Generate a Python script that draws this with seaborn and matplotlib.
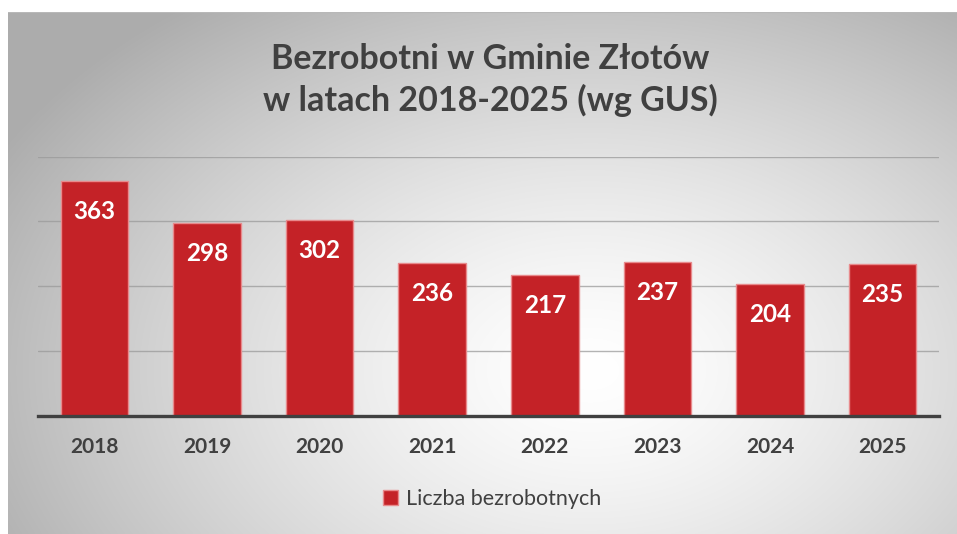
import numpy as np
import pandas as pd
import matplotlib
matplotlib.use("Agg")
import matplotlib.pyplot as plt
import seaborn as sns

years = ["2018", "2019", "2020", "2021", "2022", "2023", "2024", "2025"]
values = [363, 298, 302, 236, 217, 237, 204, 235]
title = "Bezrobotni w Gminie Złotów\nw latach 2018-2025 (wg GUS)"
legend_label = "Liczba bezrobotnych"

sns.set_theme(style="white")
plt.rcParams["font.family"] = ["Lato", "DejaVu Sans"]

W, H = 957, 534
fig = plt.figure(figsize=(W / 100, H / 100), dpi=100)
fig.patch.set_facecolor("white")

# background panel with radial gradient
px0, py0 = 8, 12
bg = fig.add_axes([px0 / W, 0, (W - px0) / W, (H - py0) / H])
gw, gh = W - px0, H - py0
yy, xx = np.mgrid[0:gh, 0:gw]
cx, cy = 590 - px0, 370 - py0
r = np.sqrt(((xx - cx) / 560.0) ** 2 + ((yy - cy) / 380.0) ** 2)
shade = 1.0 - 0.25 * np.clip(r, 0, 1.2) ** 1.4
img = np.dstack([shade, shade, shade])
bg.imshow(img, aspect="auto", extent=[0, 1, 0, 1], origin="upper")
bg.plot([0, 1], [1, 1], color="#b8b8b8", lw=1.5, transform=bg.transAxes)
bg.axis("off")

# main axes
ax_left, ax_right = 38, 939
ax_top, ax_bot = 156.7, 415.7
ax = fig.add_axes([ax_left / W, 1 - ax_bot / H, (ax_right - ax_left) / W, (ax_bot - ax_top) / H])
ax.set_facecolor("none")

df = pd.DataFrame({"year": years, "value": values})
bar_color = "#C42227"
sns.barplot(data=df, x="year", y="value", color=bar_color, width=0.6, ax=ax,
            edgecolor="#e88a8c", linewidth=1.0, saturation=1, zorder=3,
            label=legend_label)

ax.set_ylim(0, 400)
ax.set_xlim(-0.5, len(years) - 0.5)
ax.set_yticks([100, 200, 300, 400])
ax.yaxis.grid(True, color="#9a9a9a", lw=1.0, alpha=0.75, zorder=0)
ax.set_axisbelow(True)
ax.tick_params(axis="y", left=False, labelleft=False)
ax.tick_params(axis="x", bottom=False, pad=9)
for s in ["top", "right", "left"]:
    ax.spines[s].set_visible(False)
ax.spines["bottom"].set_color("#404040")
ax.spines["bottom"].set_linewidth(2.4)
ax.spines["bottom"].set_zorder(5)
ax.set_xlabel("")
ax.set_ylabel("")
for lbl in ax.get_xticklabels():
    lbl.set_fontweight("bold")
    lbl.set_fontsize(15)
    lbl.set_color("#404040")

for i, v in enumerate(values):
    ax.annotate(str(v), xy=(i, v), xytext=(0, -22), textcoords="offset points",
                ha="center", va="center", color="white", fontsize=17.5,
                fontweight="bold", zorder=6)

fig.text(490 / W, 1 - 80 / H, title, ha="center", va="center", fontsize=24.5,
         fontweight="bold", color="#404040", linespacing=1.35)

leg = ax.legend(loc="center", bbox_to_anchor=(492 / W, 1 - 499 / H),
                bbox_transform=fig.transFigure, frameon=False, fontsize=15.5,
                handlelength=0.7, handleheight=0.7, handletextpad=0.35)
for t in leg.get_texts():
    t.set_color("#404040")

fig.savefig("out.png", dpi=100)
